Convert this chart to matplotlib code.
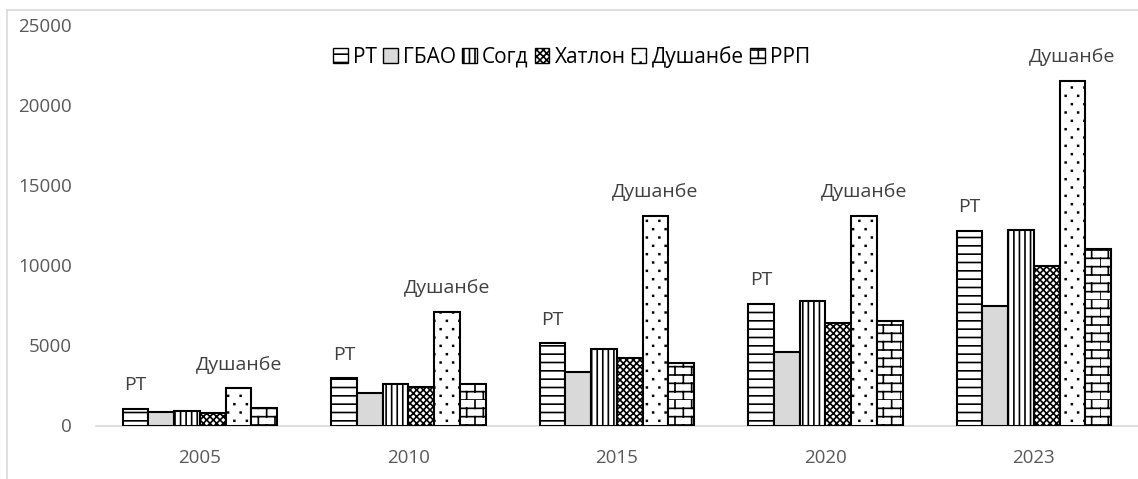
import warnings
warnings.filterwarnings("ignore")
import numpy as np
import matplotlib
matplotlib.use("Agg")
import matplotlib.pyplot as plt
import matplotlib.hatch as mhatch
from matplotlib.path import Path
from matplotlib.lines import Line2D

# ---- data ----
years = ["2005", "2010", "2015", "2020", "2023"]
series_names = ["РТ", "ГБАО", "Согд", "Хатлон", "Душанбе", "РРП"]
rt = [1030, 2950, 5137, 7590, 12175]
gbao = [825, 2050, 3325, 4615, 7490]
sogd = [925, 2575, 4800, 7760, 12220]
khatlon = [760, 2425, 4240, 6385, 9970]
dushanbe = [2325, 7110, 13110, 13110, 21550]
rrp = [1110, 2590, 3890, 6550, 11010]
labelled_series = ["РТ", "Душанбе"]
y_ticks = [0, 5000, 10000, 15000, 20000, 25000]


# ---- custom hatches: brick ('b') and sparse tiny dots ('d') ----
class _ListHatch(mhatch.HatchPatternBase):
    def _finish(self, verts, codes):
        self._verts = np.array(verts, dtype=float).reshape(-1, 2)
        self._codes = np.array(codes, dtype=Path.code_type)
        self.num_vertices = len(self._verts)

    def set_vertices_and_codes(self, vertices, codes):
        vertices[:] = self._verts
        codes[:] = self._codes


class BrickHatch(_ListHatch):
    def __init__(self, hatch, density):
        n = hatch.count('b') * density * 2
        verts, codes = [], []
        if n:
            m = n // 2
            for k in range(n):
                y0, y1 = k / n, (k + 1) / n
                verts += [(0.0, y0), (1.0, y0)]
                codes += [Path.MOVETO, Path.LINETO]
                off = 0.0 if k % 2 == 0 else 0.5 / m
                for j in range(m):
                    xx = j / m + off
                    verts += [(xx, y0), (xx, y1)]
                    codes += [Path.MOVETO, Path.LINETO]
        self._finish(verts, codes)


class DotHatch(_ListHatch):
    def __init__(self, hatch, density):
        n = hatch.count('d') * density * 2
        verts, codes = [], []
        if n:
            m = 8
            s = 0.004
            for k in range(n):
                yc = (k + 0.5) / n
                off = 0.0 if k % 2 == 0 else 0.5 / m
                for j in range(m):
                    xc = j / m + off + 0.25 / m
                    verts += [(xc - s, yc - s), (xc + s, yc - s), (xc + s, yc + s),
                              (xc - s, yc + s), (xc - s, yc - s)]
                    codes += [Path.MOVETO, Path.LINETO, Path.LINETO, Path.LINETO,
                              Path.CLOSEPOLY]
        self._finish(verts, codes)


brick, dots = 'b', 'd'
try:
    mhatch._hatch_types.append(BrickHatch)
    mhatch._hatch_types.append(DotHatch)
except Exception:
    brick, dots = '-|', '.'

plt.rcParams['font.family'] = ['Open Sans', 'DejaVu Sans']
plt.rcParams['hatch.linewidth'] = 1.2
plt.rcParams['hatch.color'] = 'black'

W, H = 1138, 479
fig = plt.figure(figsize=(W / 100, H / 100), dpi=100)
left = 95.75 / W
bottom = (H - 425.5) / H
top = (H - 25.5) / H
ax = fig.add_axes([left, bottom, 1 - left, top - bottom])

values = [rt, gbao, sogd, khatlon, dushanbe, rrp]
faces = ['white', '#d9d9d9', 'white', 'white', 'white', 'white']
hatches = ['--', None, '|||', 'xxxxx', dots, brick]

x = np.arange(len(years))
bw = 0.1235
for i, (name, vals) in enumerate(zip(series_names, values)):
    pos = x + (i - 2.5) * bw
    ax.bar(pos, vals, width=bw, facecolor=faces[i], edgecolor='black',
           linewidth=1.5, hatch=hatches[i], label=name, zorder=2)
    if name in labelled_series:
        for xp, v in zip(pos, vals):
            ax.annotate(name, (xp, v), xytext=(0, 17), textcoords='offset points',
                        ha='center', va='center', fontsize=14, color='#404040')

ax.set_xlim(-0.5, len(years) - 0.5)
ax.set_ylim(0, 25000)
ax.set_xticks(x)
ax.set_xticklabels(years)
ax.set_yticks(y_ticks)
ax.set_yticklabels([str(t) for t in y_ticks])
ax.tick_params(axis='both', length=0, labelsize=13.5, colors='#595959')
ax.tick_params(axis='y', pad=17)
ax.tick_params(axis='x', pad=17)
for s in ['left', 'right', 'top']:
    ax.spines[s].set_visible(False)
ax.spines['bottom'].set_color('#d9d9d9')
ax.spines['bottom'].set_linewidth(1.2)
ax.spines['bottom'].set_zorder(1)

leg = fig.legend(loc='center', bbox_to_anchor=(571.5 / W, 1 - 57 / H), ncol=6,
                 frameon=False, fontsize=15, handlelength=0.7, handleheight=0.7,
                 handletextpad=0.25, columnspacing=0.3, borderaxespad=0)
for p in leg.get_patches():
    p.set_linewidth(1.0)

# chart frame (light gray)
fig.add_artist(Line2D([7 / W, 7 / W], [0, 1 - 10 / H], transform=fig.transFigure,
                      color='#d9d9d9', lw=1.2))
fig.add_artist(Line2D([7 / W, 1], [1 - 10 / H, 1 - 10 / H], transform=fig.transFigure,
                      color='#d9d9d9', lw=1.2))

fig.savefig('out.png', dpi=100)
